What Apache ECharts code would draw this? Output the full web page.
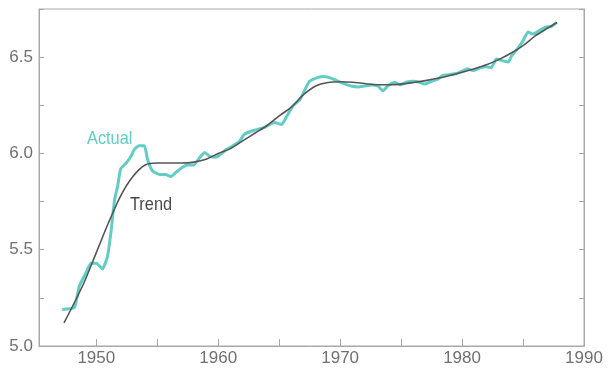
<!DOCTYPE html>
<html><head><meta charset="utf-8">
<script src="https://cdn.jsdelivr.net/npm/echarts@6/dist/echarts.min.js"></script>
<style>html,body{margin:0;padding:0;background:#fff}#c{width:615px;height:368px}</style>
</head><body><div id="c"></div>
<script>
var actualYears = [1947.2,1948.2,1948.6,1949.15,1949.56,1950.0,1950.5,1950.9,1951.2,1951.5,1951.75,1952.0,1952.45,1952.85,1953.1,1953.5,1953.95,1954.2,1954.6,1955.2,1955.7,1956.1,1956.5,1957.1,1957.5,1958.0,1958.5,1958.9,1959.3,1959.8,1960.2,1960.65,1961.2,1961.7,1962.15,1962.7,1963.25,1963.8,1964.2,1964.6,1965.2,1965.6,1966.1,1966.7,1967.1,1967.5,1968.2,1968.7,1969.3,1969.8,1970.4,1970.9,1971.5,1972.0,1972.6,1973.1,1973.5,1973.9,1974.5,1974.9,1975.4,1976.0,1976.5,1976.9,1977.5,1978.0,1978.4,1979.0,1979.55,1980.1,1980.4,1980.9,1981.5,1982.0,1982.4,1982.8,1983.4,1983.8,1984.05,1984.5,1985.0,1985.4,1985.8,1986.25,1986.8,1987.35,1987.75];
var actualValues = [5.19,5.20,5.31,5.38,5.43,5.43,5.40,5.46,5.59,5.76,5.83,5.92,5.95,5.985,6.02,6.04,6.04,5.97,5.91,5.89,5.89,5.88,5.90,5.93,5.94,5.94,5.98,6.005,5.985,5.98,5.995,6.02,6.04,6.06,6.10,6.115,6.125,6.135,6.15,6.16,6.15,6.19,6.245,6.28,6.33,6.375,6.395,6.40,6.39,6.375,6.36,6.35,6.345,6.35,6.355,6.35,6.325,6.35,6.37,6.355,6.37,6.375,6.37,6.36,6.375,6.385,6.405,6.41,6.415,6.43,6.44,6.43,6.445,6.45,6.445,6.49,6.48,6.475,6.505,6.54,6.585,6.63,6.62,6.635,6.655,6.66,6.68];
var trendYears = [1947.35,1948,1949,1950,1951,1952,1953,1954,1955,1956,1957,1958,1959,1960,1961,1962,1963,1964,1965,1966,1967,1968,1969,1970,1971,1972,1973,1974,1975,1976,1977,1978,1979,1980,1981,1982,1983,1984,1985,1986,1987,1987.8];
var trendValues = [5.12,5.20,5.33,5.485,5.64,5.78,5.88,5.94,5.95,5.95,5.95,5.955,5.97,6.00,6.025,6.065,6.105,6.145,6.195,6.24,6.305,6.35,6.368,6.372,6.37,6.363,6.357,6.357,6.36,6.368,6.378,6.39,6.405,6.422,6.44,6.46,6.487,6.52,6.56,6.61,6.65,6.68];
var xLabelValues = [1950,1960,1970,1980,1990];
var xTickValues = [1950,1955,1960,1965,1970,1975,1980,1985];
var yLabelValues = [5.0,5.5,6.0,6.5];
var seriesNames = ['Actual','Trend'];

function pairs(xs, ys){ return xs.map(function(x,i){ return [x, ys[i]]; }); }

var FONT = '"Liberation Sans",Arial,Helvetica,sans-serif';
var axisGrey = '#a8a8a8';
var labelGrey = '#707070';
var chart = echarts.init(document.getElementById('c'), null, {renderer:'canvas'});
chart.setOption({
  animation:false,
  backgroundColor:'#fff',
  grid:{left:39,right:31,top:9,bottom:22,show:true,borderColor:axisGrey,borderWidth:1,containLabel:false},
  xAxis:{type:'value',min:1945.3,max:1990,
    axisLine:{show:true,lineStyle:{color:axisGrey,width:1}},
    axisTick:{show:true,inside:true,length:7,customValues:xTickValues,lineStyle:{color:axisGrey}},
    axisLabel:{show:true,customValues:xLabelValues,color:labelGrey,fontFamily:FONT,fontSize:17,margin:4,formatter:function(v){return String(v);}},
    splitLine:{show:false}},
  yAxis:[{type:'value',min:5.0,max:6.75,interval:0.25,position:'left',
    axisLine:{show:true,lineStyle:{color:axisGrey,width:1}},
    axisTick:{show:true,inside:true,length:5,lineStyle:{color:axisGrey}},
    axisLabel:{show:true,customValues:yLabelValues,color:labelGrey,fontFamily:FONT,fontSize:17,margin:6,formatter:function(v){return v.toFixed(1);}},
    splitLine:{show:false}},
   {type:'value',min:5.0,max:6.75,interval:0.25,position:'right',
    axisLine:{show:true,lineStyle:{color:axisGrey,width:1}},
    axisTick:{show:true,inside:true,length:5,lineStyle:{color:axisGrey}},
    axisLabel:{show:false},splitLine:{show:false}}],
  series:[
    {name:seriesNames[0],type:'line',data:pairs(actualYears,actualValues),showSymbol:false,smooth:0.15,
     lineStyle:{color:'#62cdc4',width:3},z:2},
    {name:seriesNames[1],type:'line',data:pairs(trendYears,trendValues),showSymbol:false,smooth:0.3,
     lineStyle:{color:'#555555',width:1.6},z:3}
  ],
  graphic:[
    {type:'text',x:87,y:129,scaleX:0.86,style:{text:seriesNames[0],fill:'#62cdc4',font:'19px '+FONT}},
    {type:'text',x:130,y:195,scaleX:0.86,style:{text:seriesNames[1],fill:'#4a4a4a',font:'19px '+FONT}}
  ]
});
</script></body></html>
